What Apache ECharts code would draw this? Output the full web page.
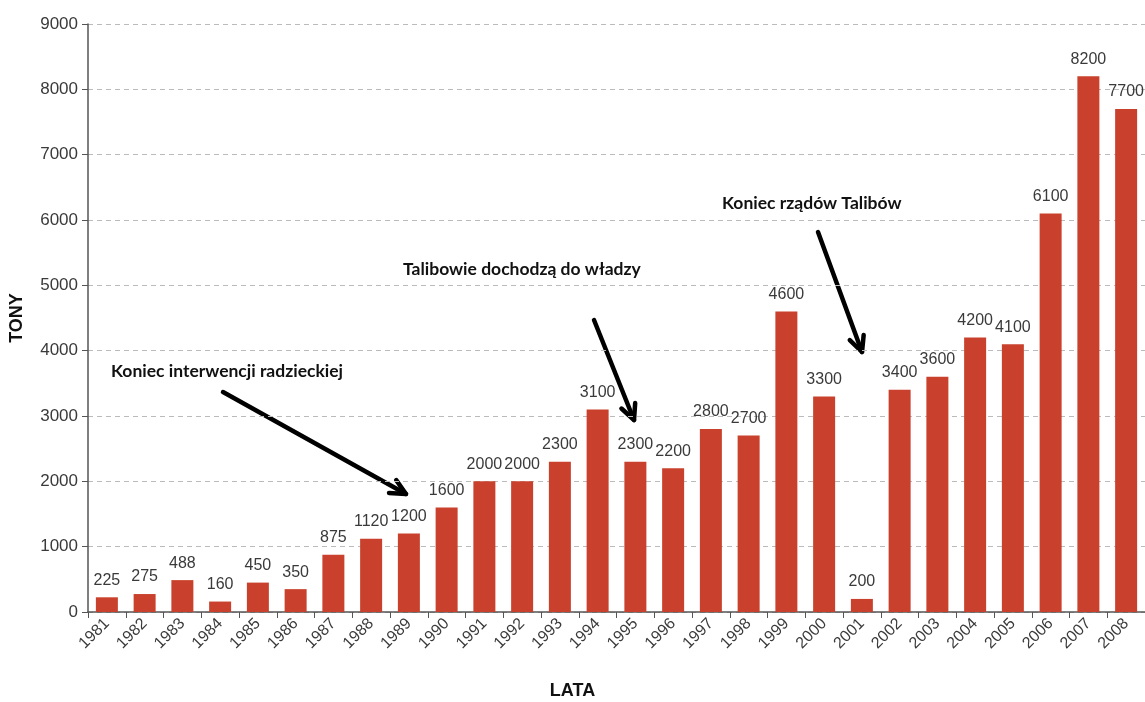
<!DOCTYPE html>
<html>
<head>
<meta charset="utf-8">
<script src="https://cdn.jsdelivr.net/npm/echarts@6/dist/echarts.min.js"></script>
<style>
html,body{margin:0;padding:0;background:#fff;}
#chart{width:1145px;height:702px;}
</style>
</head>
<body>
<div id="chart"></div>
<script>
const years = ['1981','1982','1983','1984','1985','1986','1987','1988','1989','1990','1991','1992','1993','1994','1995','1996','1997','1998','1999','2000','2001','2002','2003','2004','2005','2006','2007','2008'];
const tons = [225,275,488,160,450,350,875,1120,1200,1600,2000,2000,2300,3100,2300,2200,2800,2700,4600,3300,200,3400,3600,4200,4100,6100,8200,7700];
const yTicks = [0,1000,2000,3000,4000,5000,6000,7000,8000,9000];
const yAxisTitle = 'TONY';
const xAxisTitle = 'LATA';
const notes = [
  {text:'Koniec interwencji radzieckiej', tx:111, ty:373, from:[223,392], to:[406,494]},
  {text:'Talibowie dochodzą do władzy', tx:403, ty:271, from:[594,320], to:[634,420]},
  {text:'Koniec rządów Talibów', tx:722, ty:205, from:[818,232], to:[862,352]}
];

const chart = echarts.init(document.getElementById('chart'));
const numFont = "'Liberation Sans', Arial, sans-serif";

function arrowGraphics(n){
  const [x1,y1]=n.from,[x2,y2]=n.to;
  const ang=Math.atan2(y2-y1,x2-x1);
  const L=17, spread=0.45;
  const a1=[x2-L*Math.cos(ang-spread), y2-L*Math.sin(ang-spread)];
  const a2=[x2-L*Math.cos(ang+spread), y2-L*Math.sin(ang+spread)];
  const st={stroke:'#000',lineWidth:4.5,lineCap:'round',lineJoin:'round'};
  return [
    {type:'text',left:n.tx,top:n.ty-11,style:{text:n.text,fill:'#111',font:"bold 17.5px Lato, 'Open Sans', sans-serif"}},
    {type:'line',shape:{x1:x1,y1:y1,x2:x2,y2:y2},style:st},
    {type:'polyline',shape:{points:[a1,[x2,y2],a2]},style:Object.assign({fill:null},st)}
  ];
}
let g=[];
notes.forEach(n=>{g=g.concat(arrowGraphics(n));});
g.push({type:'text',left:'center',top:682,style:{text:xAxisTitle,fill:'#111',font:"bold 18px 'Liberation Sans', Arial, sans-serif"}});

chart.setOption({
  animation:false,
  backgroundColor:'#fff',
  grid:{left:88,right:0,top:24,bottom:90,containLabel:false,outerBoundsMode:'none'},
  xAxis:{
    type:'category',
    data:years,
    axisLine:{lineStyle:{color:'#555',width:1.5}},
    axisTick:{show:true,length:6,lineStyle:{color:'#555'}},
    axisLabel:{rotate:45,color:'#3a3a3a',fontSize:16,fontFamily:numFont,margin:9,interval:0}
  },
  yAxis:{
    type:'value',
    min:yTicks[0],max:yTicks[yTicks.length-1],interval:1000,
    name:yAxisTitle,nameLocation:'middle',nameGap:62,
    nameTextStyle:{fontWeight:'bold',fontSize:18,color:'#111',fontFamily:numFont},
    axisLine:{show:true,lineStyle:{color:'#555',width:1.5}},
    axisTick:{show:true,length:6,lineStyle:{color:'#555'}},
    axisLabel:{color:'#3a3a3a',fontSize:17,fontFamily:numFont,margin:10,formatter:v=>String(v)},
    splitLine:{show:true,lineStyle:{color:'#bbb',type:[5,4],width:1}}
  },
  series:[{
    type:'bar',
    data:tons,
    barWidth:22,
    itemStyle:{color:'#c9412c'},
    label:{show:true,position:'top',distance:9,color:'#3a3a3a',fontSize:16,fontFamily:numFont}
  }],
  graphic:g
});
</script>
</body>
</html>
